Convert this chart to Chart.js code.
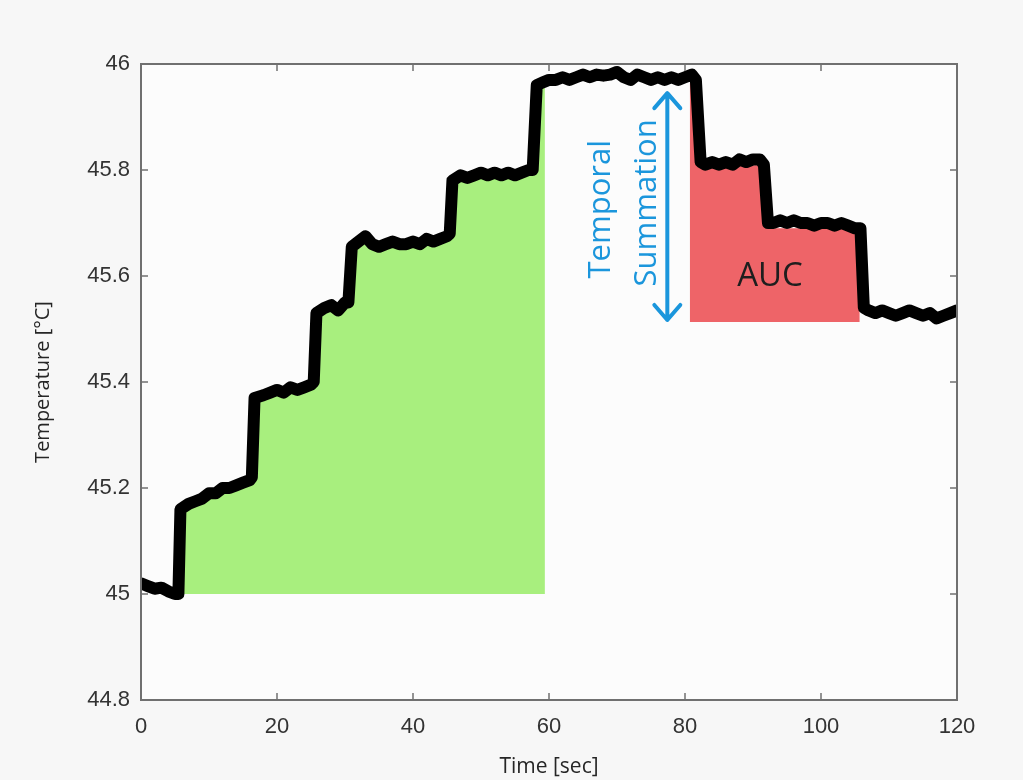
<!DOCTYPE html>
<html>
<head>
<meta charset="utf-8">
<script src="https://cdn.jsdelivr.net/npm/chart.js@4.4.1/dist/chart.umd.min.js"></script>
<style>
  body { margin: 0; background: #f7f7f7; }
  #wrap { width: 1023px; height: 780px; }
</style>
</head>
<body>
<div id="wrap"><canvas id="tempChart"></canvas></div>
<script>
// measured trace (sec, °C)
const timeSec = [0, 1, 2, 3, 4, 5, 5.5, 5.8, 7, 8, 9, 10, 11, 12, 13, 14, 15, 16, 16.3,
  16.7, 18, 19, 20, 21, 22, 23, 24, 25, 25.4, 25.8, 27, 28, 29, 30, 30.5,
  31, 32, 33, 34, 35, 36, 37, 38, 39, 40, 41, 42, 43, 44, 45, 45.4,
  45.8, 47, 48, 49, 50, 51, 52, 53, 54, 55, 56, 57, 57.6,
  58.2, 59, 60, 61, 62, 63, 64, 65, 66, 67, 68, 69, 70, 71, 72, 73, 74, 75, 76, 77, 78, 79, 80, 81, 81.6,
  82.3, 83, 84, 85, 86, 87, 88, 89, 90, 91, 91.6,
  92.2, 93, 94, 95, 96, 97, 98, 99, 100, 101, 102, 103, 104, 105, 105.8,
  106.3, 107, 108, 109, 110, 111, 112, 113, 114, 115, 116, 117, 118, 119, 120];
const tempC = [45.02, 45.015, 45.01, 45.012, 45.005, 45.0, 45.0, 45.16, 45.17, 45.175, 45.18, 45.19, 45.19, 45.2, 45.2, 45.205, 45.21, 45.215, 45.22,
  45.37, 45.375, 45.38, 45.385, 45.38, 45.39, 45.385, 45.39, 45.395, 45.4, 45.53, 45.54, 45.545, 45.535, 45.55, 45.55,
  45.655, 45.665, 45.675, 45.66, 45.655, 45.66, 45.665, 45.66, 45.66, 45.665, 45.66, 45.67, 45.665, 45.67, 45.675, 45.68,
  45.78, 45.79, 45.785, 45.79, 45.795, 45.79, 45.795, 45.79, 45.795, 45.79, 45.795, 45.8, 45.8,
  45.96, 45.965, 45.97, 45.97, 45.975, 45.97, 45.975, 45.98, 45.975, 45.98, 45.978, 45.98, 45.985, 45.975, 45.97, 45.98, 45.975, 45.97, 45.975, 45.97, 45.975, 45.97, 45.975, 45.98, 45.97,
  45.815, 45.81, 45.815, 45.81, 45.815, 45.81, 45.82, 45.815, 45.82, 45.82, 45.81,
  45.7, 45.7, 45.705, 45.7, 45.705, 45.7, 45.7, 45.695, 45.7, 45.7, 45.695, 45.7, 45.695, 45.69, 45.69,
  45.54, 45.535, 45.53, 45.535, 45.53, 45.525, 45.53, 45.535, 45.53, 45.525, 45.53, 45.52, 45.525, 45.53, 45.535];

// shaded areas: outline points of the top edge, and the base level
const greenX = [6.2, 16.6, 16.6, 25.7, 25.7, 31.1, 31.1, 45.7, 45.7, 58.0, 58.0, 59.4];
const greenY = [45.165, 45.21, 45.375, 45.39, 45.535, 45.545, 45.66, 45.67, 45.785, 45.795, 45.96, 45.962];
const greenBase = 45.0;
const redX = [80.7, 82.4, 82.4, 92.0, 92.0, 105.7];
const redY = [45.965, 45.965, 45.805, 45.81, 45.69, 45.69];
const redBase = 45.513;

const xTicks = [0, 20, 40, 60, 80, 100, 120];
const yTicks = [44.8, 45, 45.2, 45.4, 45.6, 45.8, 46];

const toPoints = (xs, ys) => xs.map((x, i) => ({ x: x, y: ys[i] }));

// frame, inward ticks and annotations
const extrasPlugin = {
  id: "extras",
  beforeDraw(chart) {
    const { ctx, chartArea: a } = chart;
    ctx.save();
    ctx.fillStyle = "#f7f7f7";
    ctx.fillRect(0, 0, chart.width, chart.height);
    ctx.fillStyle = "#fcfcfc";
    ctx.fillRect(a.left, a.top, a.right - a.left, a.bottom - a.top);
    ctx.restore();
  },
  afterDatasetsDraw(chart) {
    const { ctx, chartArea: a, scales } = chart;
    const xs = scales.x, ys = scales.y;
    ctx.save();
    ctx.strokeStyle = "#707070";
    ctx.lineWidth = 2;
    ctx.strokeRect(a.left, a.top, a.right - a.left, a.bottom - a.top);
    ctx.lineWidth = 1.5;
    ctx.beginPath();
    xTicks.forEach((v) => {
      const px = xs.getPixelForValue(v);
      ctx.moveTo(px, a.bottom); ctx.lineTo(px, a.bottom - 7);
      ctx.moveTo(px, a.top); ctx.lineTo(px, a.top + 7);
    });
    yTicks.forEach((v) => {
      const py = ys.getPixelForValue(v);
      ctx.moveTo(a.left, py); ctx.lineTo(a.left + 7, py);
      ctx.moveTo(a.right, py); ctx.lineTo(a.right - 7, py);
    });
    ctx.stroke();

    // Temporal Summation text
    const blue = "#1b96dc";
    ctx.fillStyle = blue;
    ctx.font = "31px 'Open Sans'";
    ctx.textAlign = "center";
    ctx.textBaseline = "middle";
    [["Temporal", 67.6, 45.726], ["Summation", 74.4, 45.738]].forEach(([t, x, y]) => {
      ctx.save();
      ctx.translate(xs.getPixelForValue(x), ys.getPixelForValue(y));
      ctx.rotate(-Math.PI / 2);
      ctx.fillText(t, 0, 0);
      ctx.restore();
    });

    // double arrow
    const ax = xs.getPixelForValue(77.4);
    const ay1 = ys.getPixelForValue(45.945);
    const ay2 = ys.getPixelForValue(45.517);
    ctx.strokeStyle = blue;
    ctx.lineWidth = 4;
    ctx.lineCap = "round";
    ctx.lineJoin = "round";
    ctx.beginPath();
    ctx.moveTo(ax, ay1); ctx.lineTo(ax, ay2);
    ctx.moveTo(ax - 13, ay1 + 15); ctx.lineTo(ax, ay1); ctx.lineTo(ax + 13, ay1 + 15);
    ctx.moveTo(ax - 13, ay2 - 15); ctx.lineTo(ax, ay2); ctx.lineTo(ax + 13, ay2 - 15);
    ctx.stroke();

    // AUC label
    ctx.fillStyle = "#1e1e1e";
    ctx.font = "33px 'Open Sans'";
    ctx.fillText("AUC", xs.getPixelForValue(92.5), ys.getPixelForValue(45.598));
    ctx.restore();
  },
};

const ctx = document.getElementById("tempChart");
const tempChart = new Chart(ctx, {
  type: "line",
  data: {
    datasets: [
      {
        label: "Temperature",
        data: toPoints(timeSec, tempC),
        borderColor: "#000000",
        borderWidth: 12,
        borderJoinStyle: "round",
        borderCapStyle: "round",
        pointRadius: 0,
        fill: false,
        order: 0,
      },
      {
        label: "Green area",
        data: toPoints(greenX, greenY),
        borderWidth: 0,
        pointRadius: 0,
        backgroundColor: "#a8ef7e",
        fill: { value: greenBase },
        order: 1,
      },
      {
        label: "AUC",
        data: toPoints(redX, redY),
        borderWidth: 0,
        pointRadius: 0,
        backgroundColor: "#ee6468",
        fill: { value: redBase },
        order: 1,
      },
    ],
  },
  options: {
    responsive: true,
    maintainAspectRatio: false,
    animation: false,
    layout: { padding: { top: 64, right: 66, left: 0, bottom: 0 } },
    plugins: { legend: { display: false }, tooltip: { enabled: false } },
    scales: {
      x: {
        type: "linear",
        min: 0,
        max: 120,
        afterBuildTicks: (s) => { s.ticks = xTicks.map((v) => ({ value: v })); },
        afterFit: (s) => { s.height = 80; },
        grid: { display: false, drawTicks: false },
        border: { display: false },
        ticks: {
          padding: 14,
          color: "#333333",
          font: { family: "'Liberation Sans', Arial", size: 22 },
          callback: (v) => String(v),
        },
        title: {
          display: true,
          text: "Time [sec]",
          color: "#262626",
          padding: { top: 0, bottom: 0 },
          font: { family: "'Open Sans'", size: 21 },
        },
      },
      y: {
        min: 44.8,
        max: 46,
        afterBuildTicks: (s) => { s.ticks = yTicks.map((v) => ({ value: v })); },
        afterFit: (s) => { s.width = 141; },
        grid: { display: false, drawTicks: false },
        border: { display: false },
        ticks: {
          padding: 11,
          color: "#333333",
          font: { family: "'Liberation Sans', Arial", size: 22 },
          callback: (v) => String(v),
        },
        title: {
          display: true,
          text: "Temperature [°C]",
          color: "#262626",
          padding: { top: 31, bottom: 0 },
          font: { family: "'Open Sans'", size: 20 },
        },
      },
    },
  },
  plugins: [extrasPlugin],
});
</script>
</body>
</html>
